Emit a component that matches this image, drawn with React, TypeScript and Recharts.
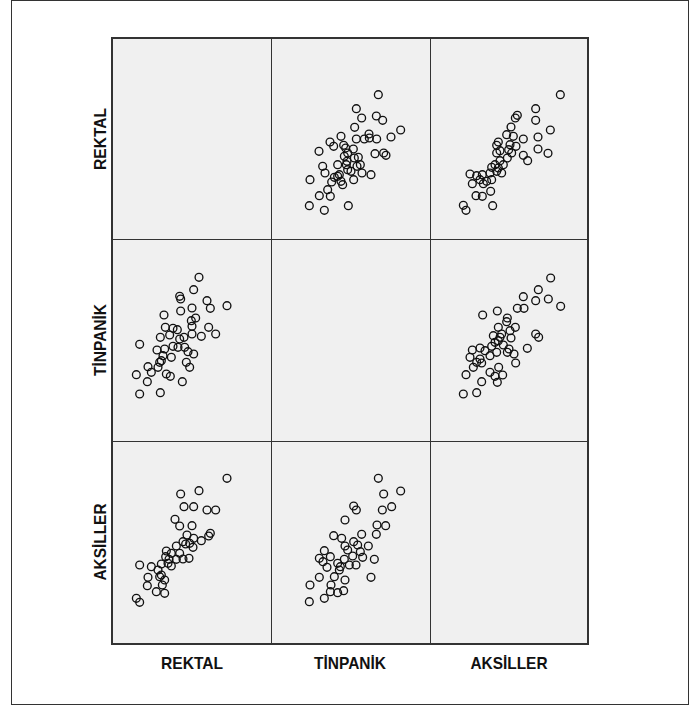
import React from "react";
import { ScatterChart, Scatter, XAxis, YAxis } from "recharts";

// Variable names (row labels, left; column labels, bottom)
const variables = ["REKTAL", "TİNPANİK", "AKSİLLER"];

// Each panel: [x (column variable), y (row variable)] pairs (°C-like units)
const rektalByTinpanik: [number, number][] = [
  [38.22, 39.36], [37.56, 38.94], [37.72, 38.66], [38.16, 38.72], [38.35, 38.59],
  [37.51, 38.38], [38.89, 38.3], [38.6, 38.09], [37.94, 38.18], [37.1, 38.11],
  [37.56, 38.03], [37.8, 38.03], [37.95, 38.06], [38.17, 38.03], [36.77, 37.94],
  [36.88, 37.81], [37.18, 37.84], [37.24, 37.76], [37.47, 37.73], [36.44, 37.66],
  [37.3, 37.61], [37.2, 37.51], [37.62, 37.48], [38.12, 37.59], [38.38, 37.61],
  [38.45, 37.54], [36.55, 37.21], [36.62, 37.01], [37.0, 37.26], [37.28, 37.36],
  [37.26, 37.26], [37.58, 37.21], [37.68, 37.26], [37.4, 37.06], [37.73, 37.01],
  [38.0, 36.96], [37.05, 36.96], [36.9, 36.88], [36.82, 36.74], [37.15, 36.66],
  [37.48, 36.81], [36.17, 36.81], [36.7, 36.51], [36.45, 36.33], [36.78, 36.31],
  [36.15, 36.03], [36.6, 35.89], [37.32, 36.03], [37.0, 36.91], [37.3, 37.11],
  [37.5, 37.46], [37.1, 36.76],
];

const rektalByAksiller: [number, number][] = [
  [38.91, 39.36], [38.17, 38.94], [38.17, 38.59], [37.62, 38.74], [37.56, 38.66],
  [37.43, 38.39], [38.61, 38.3], [38.24, 38.09], [37.8, 38.03], [37.3, 38.16],
  [37.5, 38.11], [37.05, 37.94], [37.0, 37.84], [37.4, 37.86], [37.58, 37.81],
  [37.36, 37.71], [38.24, 37.73], [38.54, 37.6], [37.8, 37.54], [37.93, 37.38],
  [37.0, 37.61], [37.32, 37.46], [37.1, 37.38], [36.95, 37.26], [36.85, 37.18],
  [37.05, 37.16], [37.15, 37.01], [36.8, 37.01], [36.2, 36.98], [36.4, 36.93],
  [36.57, 36.96], [36.27, 36.69], [36.6, 36.69], [36.5, 36.81], [36.85, 36.81],
  [36.82, 36.46], [36.38, 36.33], [36.57, 36.31], [36.0, 36.04], [36.08, 35.89],
  [36.88, 36.03], [37.0, 37.06], [37.2, 37.26], [37.45, 37.61], [36.7, 36.76],
  [37.1, 37.68],
];

const tinpanikByRektal: [number, number][] = [
  [37.58, 39.91], [37.42, 39.54], [37.0, 39.34], [37.03, 39.26], [37.82, 39.21],
  [37.92, 38.98], [38.42, 39.06], [37.37, 38.99], [37.03, 38.9], [36.53, 38.78],
  [37.48, 38.69], [37.35, 38.61], [37.37, 38.44], [36.57, 38.41], [36.8, 38.38],
  [36.93, 38.34], [37.87, 38.41], [38.08, 38.21], [37.65, 38.14], [37.37, 38.21],
  [37.13, 38.11], [36.42, 38.11], [36.7, 38.18], [35.8, 37.9], [36.32, 37.73],
  [36.55, 37.76], [36.8, 37.84], [36.95, 37.81], [37.15, 37.81], [37.25, 37.68],
  [37.42, 37.61], [36.5, 37.56], [36.4, 37.36], [36.75, 37.51], [37.2, 37.36],
  [37.3, 37.21], [36.05, 37.23], [36.15, 37.06], [36.35, 37.21], [35.7, 36.99],
  [36.6, 37.01], [36.72, 36.94], [36.03, 36.78], [37.08, 36.78], [35.8, 36.41],
  [36.42, 36.45], [36.45, 37.41], [37.0, 38.06],
];

const tinpanikByAksiller: [number, number][] = [
  [38.62, 39.89], [38.25, 39.54], [37.8, 39.33], [38.17, 39.21], [38.55, 39.26],
  [38.92, 39.04], [37.62, 38.98], [37.82, 38.98], [37.02, 38.9], [36.58, 38.78],
  [37.32, 38.69], [37.3, 38.58], [37.56, 38.41], [37.05, 38.41], [36.9, 38.16],
  [37.15, 38.21], [37.4, 38.31], [38.17, 38.21], [38.26, 38.11], [37.43, 38.09],
  [37.05, 38.01], [37.2, 37.88], [36.85, 37.84], [36.5, 37.79], [36.27, 37.73],
  [36.65, 37.71], [37.37, 37.76], [37.92, 37.78], [36.2, 37.51], [36.5, 37.46],
  [36.8, 37.56], [37.0, 37.66], [37.32, 37.66], [37.52, 37.61], [36.4, 37.36],
  [36.55, 37.34], [36.3, 37.21], [37.57, 37.34], [37.06, 37.21], [36.8, 37.06],
  [36.08, 36.99], [36.95, 36.94], [37.18, 36.98], [37.02, 36.76], [36.55, 36.78],
  [36.0, 36.41], [36.4, 36.45], [37.1, 38.11], [36.95, 37.96],
];

const aksillerByRektal: [number, number][] = [
  [38.42, 39.91], [37.58, 39.54], [37.03, 39.44], [37.13, 39.06], [37.42, 39.06],
  [37.82, 38.96], [38.08, 38.96], [36.86, 38.68], [37.0, 38.48], [37.37, 38.49],
  [37.92, 38.26], [37.87, 38.18], [37.22, 38.21], [37.42, 38.11], [37.65, 38.04],
  [37.1, 38.01], [36.9, 37.88], [37.18, 37.94], [37.4, 37.84], [36.6, 37.73],
  [36.75, 37.66], [37.0, 37.66], [36.58, 37.56], [36.68, 37.48], [36.9, 37.48],
  [37.1, 37.49], [37.28, 37.51], [36.45, 37.34], [36.75, 37.28], [35.8, 37.31],
  [36.15, 37.26], [36.35, 37.16], [36.05, 36.94], [36.03, 36.69], [36.4, 36.96],
  [36.55, 36.86], [36.48, 36.71], [36.3, 36.51], [36.55, 36.46], [35.7, 36.31],
  [35.8, 36.19], [36.65, 37.36], [36.45, 37.01], [37.3, 37.96],
];

const aksillerByTinpanik: [number, number][] = [
  [38.22, 39.91], [38.38, 39.44], [38.89, 39.53], [37.48, 39.08], [37.56, 38.96],
  [38.34, 38.96], [38.62, 39.06], [37.22, 38.66], [38.18, 38.51], [38.44, 38.49],
  [38.16, 38.23], [36.88, 38.19], [37.12, 38.11], [37.72, 38.23], [37.48, 38.01],
  [37.22, 37.88], [37.92, 37.88], [36.6, 37.74], [36.45, 37.51], [36.78, 37.56],
  [36.56, 37.41], [36.68, 37.24], [37.3, 37.76], [37.45, 37.58], [37.68, 37.71],
  [37.75, 37.54], [38.1, 37.48], [37.0, 37.36], [37.2, 37.48], [37.35, 37.31],
  [37.55, 37.31], [37.05, 37.16], [36.45, 36.94], [36.9, 36.96], [37.22, 36.86],
  [38.0, 36.94], [36.17, 36.71], [36.8, 36.71], [36.78, 36.51], [37.0, 36.48],
  [37.18, 36.54], [36.15, 36.21], [36.6, 36.31], [37.6, 37.91], [37.08, 37.26],
];

// Panel placement: [row, col, data]
const panels: [number, number, [number, number][]][] = [
  [0, 1, rektalByTinpanik],
  [0, 2, rektalByAksiller],
  [1, 0, tinpanikByRektal],
  [1, 2, tinpanikByAksiller],
  [2, 0, aksillerByRektal],
  [2, 1, aksillerByTinpanik],
];

const X_DOMAIN: [number, number] = [35, 39.8];
const Y_DOMAIN: [number, number] = [35, 41.06];

const COL_LEFT = [113, 271, 430];
const ROW_TOP = [38, 239, 440];
const CHART_W = 160;
const CHART_H = 202;

const COL_CENTER = [192, 350, 509];
const ROW_CENTER = [139, 340, 542];
const LABEL_LEN: Record<string, number> = { REKTAL: 62, "TİNPANİK": 72, AKSİLLER: 77 };

const LINE = "#333";
const FONT = "'Liberation Sans', Arial, sans-serif";

const Ring = (props: any) => {
  const { cx, cy } = props;
  if (cx == null || cy == null) return null;
  return <circle cx={cx} cy={cy} r={3.9} fill="none" stroke="#111" strokeWidth={1.35} />;
};

export default function App() {
  return (
    <div style={{ position: "absolute", left: 0, top: 0, width: 691, height: 705, background: "#fff", overflow: "hidden" }}>
      {/* outer frame */}
      <div style={{ position: "absolute", left: 11, top: 0, width: 678, height: 705, border: `1px solid ${LINE}`, boxSizing: "border-box" }} />
      {/* matrix background */}
      <div style={{ position: "absolute", left: 111, top: 37, width: 478, height: 608, background: "#f0f0f0" }} />
      {panels.map(([r, c, pts], i) => (
        <div key={i} style={{ position: "absolute", left: COL_LEFT[c], top: ROW_TOP[r], width: CHART_W, height: CHART_H }}>
          <ScatterChart width={CHART_W} height={CHART_H} margin={{ top: 0, right: 0, bottom: 0, left: 0 }}>
            <XAxis type="number" dataKey="x" domain={X_DOMAIN} hide />
            <YAxis type="number" dataKey="y" domain={Y_DOMAIN} hide />
            <Scatter data={pts.map(([x, y]) => ({ x, y }))} shape={Ring} isAnimationActive={false} />
          </ScatterChart>
        </div>
      ))}
      {/* grid lines */}
      <div style={{ position: "absolute", left: 271, top: 37, width: 1, height: 608, background: LINE }} />
      <div style={{ position: "absolute", left: 430, top: 37, width: 1, height: 608, background: LINE }} />
      <div style={{ position: "absolute", left: 111, top: 239, width: 478, height: 1, background: LINE }} />
      <div style={{ position: "absolute", left: 111, top: 441, width: 478, height: 1, background: LINE }} />
      <div style={{ position: "absolute", left: 111, top: 37, width: 478, height: 608, border: `2px solid ${LINE}`, boxSizing: "border-box" }} />
      {/* labels */}
      <svg width={691} height={705} style={{ position: "absolute", left: 0, top: 0 }}>
        {variables.map((v, i) => (
          <text key={"c" + i} x={COL_CENTER[i]} y={669} textAnchor="middle" fontFamily={FONT} fontWeight="bold" fontSize={17}
            fill="#111" textLength={LABEL_LEN[v]} lengthAdjust="spacingAndGlyphs">{v}</text>
        ))}
        {variables.map((v, i) => (
          <text key={"r" + i} transform={`translate(106, ${ROW_CENTER[i]}) rotate(-90)`} x={0} y={0} textAnchor="middle"
            fontFamily={FONT} fontWeight="bold" fontSize={17} fill="#111" textLength={LABEL_LEN[v]} lengthAdjust="spacingAndGlyphs">{v}</text>
        ))}
      </svg>
    </div>
  );
}
